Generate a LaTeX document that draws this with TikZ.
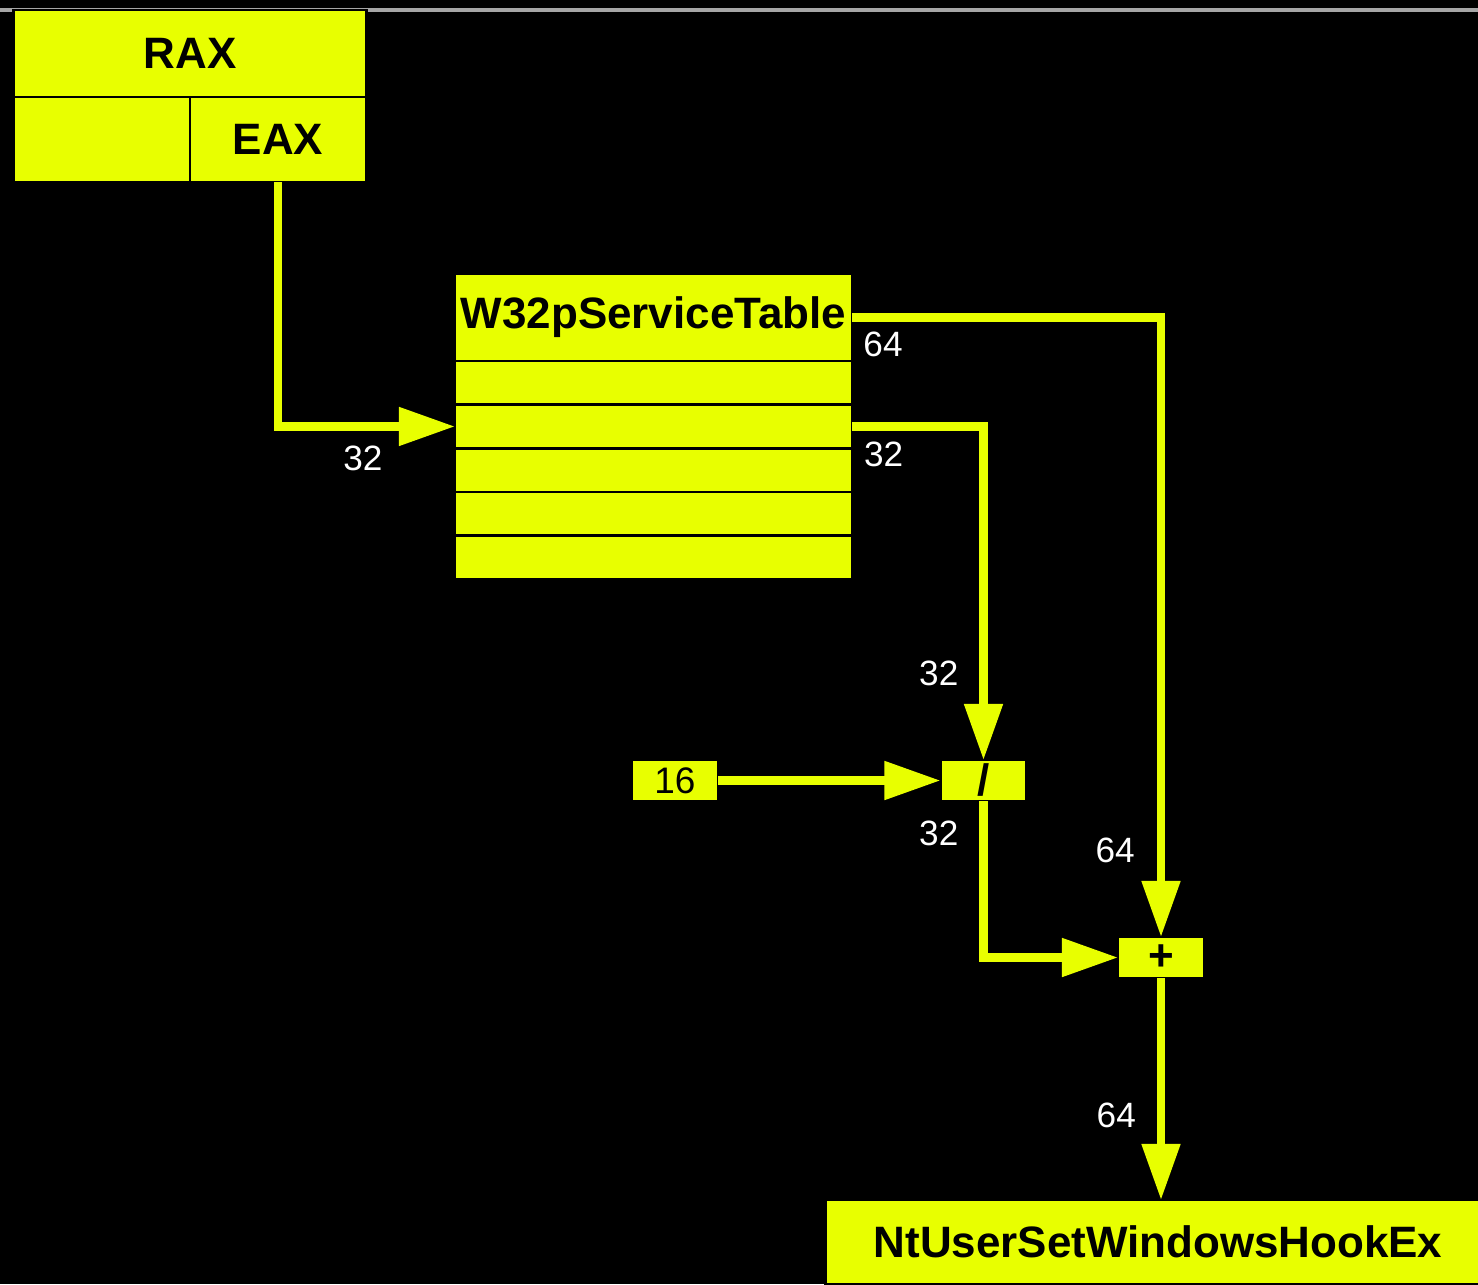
\documentclass[tikz,border=0pt]{standalone}
\usepackage{fontspec}
\setmainfont{Liberation Sans}
\usetikzlibrary{positioning,arrows.meta}
\definecolor{chip}{RGB}{232,255,0}

\begin{document}
\begin{tikzpicture}[x=0.01cm, y=-0.01cm, regbox/.style={draw=black, line width=0.8pt, fill=chip, inner sep=0pt, outer sep=0pt, font=\bfseries\fontsize{12.5}{15}\selectfont}, rowbox/.style={regbox, minimum width=3.97cm, minimum height=0.436cm}, opbox/.style={regbox, minimum width=0.86cm, minimum height=0.41cm}, bus/.style={draw=chip, line width=2.3pt, -{Triangle[length=5.6mm, width=3.7mm]}}, bitlbl/.style={text=white, inner sep=0pt, font=\fontsize{10}{12}\selectfont}]
\fill[black] (0,0) rectangle (1478,1284);
\useasboundingbox (0,0) rectangle (1478,1284);
\draw[gray!70, line width=1.2pt] (0,10) -- (1478,10);
% register
\node[regbox, minimum width=3.52cm, minimum height=0.87cm] (rax) at (190,53.5) {RAX};
\node[regbox, minimum width=1.76cm, minimum height=0.85cm] (eaxhi) at (102,139.5) {};
\node[regbox, minimum width=1.76cm, minimum height=0.85cm] (eax) at (278,139.5) {EAX};
% service table
\node[rowbox, minimum height=0.87cm] (tabhead) at (653.5,317.5) {W32pServiceTable};
\node[rowbox, below=0pt of tabhead] (row1) {};
\node[rowbox, below=0pt of row1] (row2) {};
\node[rowbox, below=0pt of row2] (row3) {};
\node[rowbox, below=0pt of row3] (row4) {};
\node[rowbox, below=0pt of row4] (row5) {};
% operators
\node[opbox, font=\fontsize{10.5}{12}\selectfont] (sixteen) at (675,780.5) {16};
\node[opbox] (divop) at (983.5,780.5) {/};
\node[opbox] (addop) at (1161,957.5) {+};
\node[regbox, minimum width=6.64cm, minimum height=0.84cm] (ntuser) at (1158,1242) {NtUserSetWindowsHookEx};
% buses
\draw[bus] (eax.south) |- node[bitlbl, pos=.74, below=4.4pt] {32} (row2.west);
\draw[bus] (tabhead.east) -| node[bitlbl, pos=.05, below=3pt] {64} node[bitlbl, pos=.93, left=6.3pt] {64} (addop.north);
\draw[bus] (row2.east) -| node[bitlbl, pos=.12, below=3.3pt] {32} node[bitlbl, pos=.87, left=6pt] {32} (divop.north);
\draw[bus] (sixteen) -- (divop);
\draw[bus] (divop.south) |- node[bitlbl, pos=.105, left=6pt] {32} (addop.west);
\draw[bus] (addop.south) -- node[bitlbl, pos=.62, left=6pt] {64} (addop.south |- ntuser.north);
\end{tikzpicture}
\end{document}
